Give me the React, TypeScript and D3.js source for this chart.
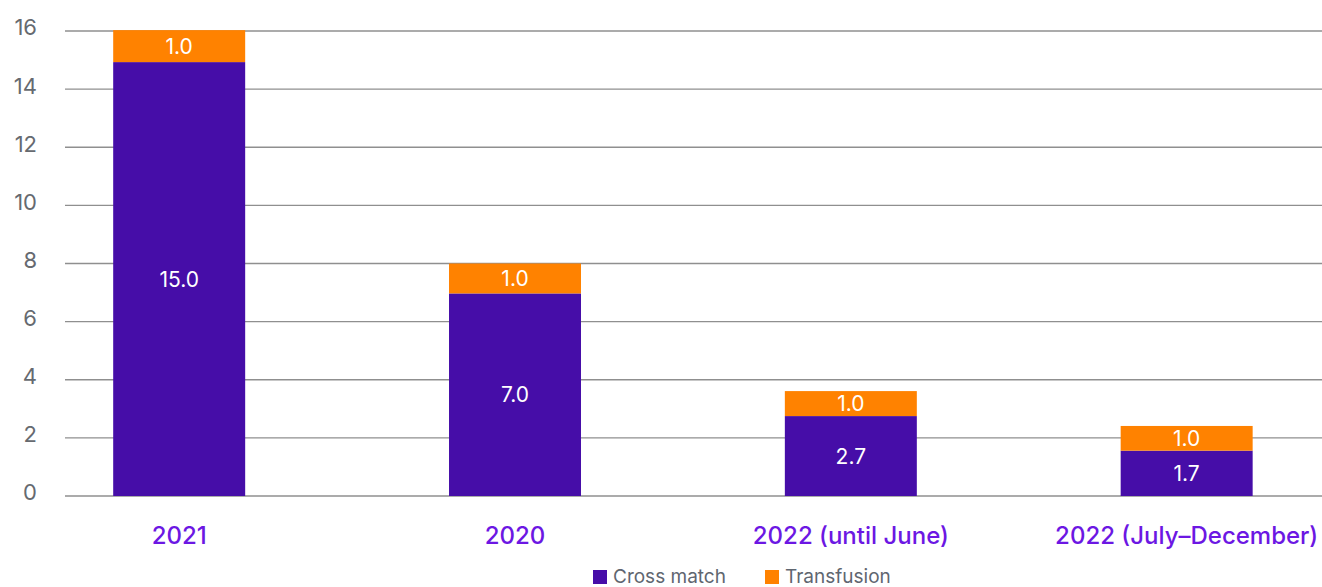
import * as React from "react";
import * as d3 from "d3";

// values; labels are what the chart prints on them
const categories = ["2021", "2020", "2022 (until June)", "2022 (July\u2013December)"];
const crossMatch = [14.93, 6.97, 2.75, 1.56];
const transfusion = [1.1, 1.03, 0.86, 0.85];
const crossLabels = ["15.0", "7.0", "2.7", "1.7"];
const transLabels = ["1.0", "1.0", "1.0", "1.0"];
const yTicks = [0, 2, 4, 6, 8, 10, 12, 14, 16];
const seriesNames = ["Cross match", "Transfusion"];

const W = 1322;
const H = 587;
const PURPLE = "#460da8";
const ORANGE = "#ff8200";
const FONT = "Inter, 'Noto Sans', sans-serif";

export default function App() {
  const x = d3.scaleBand<string>()
    .domain(categories)
    .range([65, 1322])
    .paddingInner(0.607)
    .paddingOuter(0.175)
    .align(0.41);
  const y = d3.scaleLinear().domain([0, 16]).range([496, 31]);
  const color = d3.scaleOrdinal<string, string>().domain(seriesNames).range([PURPLE, ORANGE]);

  const rows = categories.map((c, i) => ({ cat: c, cross: crossMatch[i], trans: transfusion[i] }));
  const stacked = d3.stack<any>().keys(["cross", "trans"])(rows);
  const labels = [crossLabels, transLabels];

  return (
    <svg width={W} height={H} style={{ position: "absolute", left: 0, top: 0 }} fontFamily={FONT}>
      <g>
        {yTicks.map(t => (
          <g key={t}>
            <line x1={65} x2={1322} y1={y(t)} y2={y(t)} stroke="#8f8f8f" strokeWidth={1.4} />
            <text x={37} y={y(t)} dy="0.2em" textAnchor="end" fontSize={22} fill="#666a70">{t}</text>
          </g>
        ))}
      </g>
      {stacked.map((s, si) => (
        <g key={s.key} fill={color(seriesNames[si])}>
          {s.map((d, i) => (
            <rect key={i} x={x(categories[i])} width={x.bandwidth()}
              y={y(d[1])} height={y(d[0]) - y(d[1])} />
          ))}
        </g>
      ))}
      {stacked.map((s, si) => (
        <g key={"l" + s.key}>
          {s.map((d, i) => (
            <text key={i} x={(x(categories[i]) as number) + x.bandwidth() / 2}
              y={(y(d[0]) + y(d[1])) / 2} dy="0.36em" textAnchor="middle"
              fontSize={21} fill="#ffffff">{labels[si][i]}</text>
          ))}
        </g>
      ))}
      {categories.map(c => (
        <text key={c} x={(x(c) as number) + x.bandwidth() / 2} y={544} textAnchor="middle"
          fontSize={24} fontWeight={500} fill="#6c17e3">{c}</text>
      ))}
      <g>
        {seriesNames.map((n, i) => {
          const lx = i === 0 ? 593 : 765;
          return (
            <g key={n} transform={`translate(${lx},570)`}>
              <rect width={14} height={14} fill={color(n)} />
              <text x={20} y={13} fontSize={19} fill="#5f6670">{n}</text>
            </g>
          );
        })}
      </g>
    </svg>
  );
}
